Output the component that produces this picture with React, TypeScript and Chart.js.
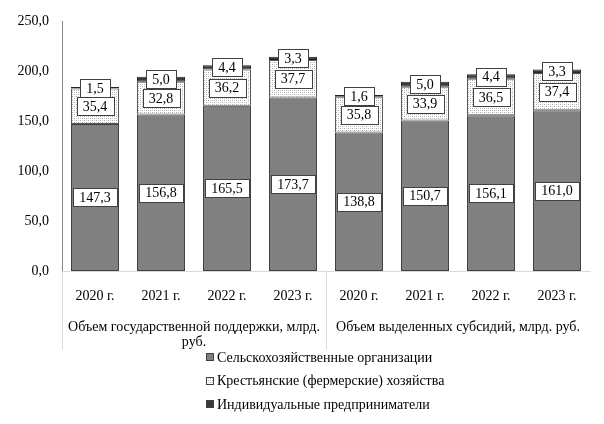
import React, { useEffect, useRef } from 'react';
import { Chart, registerables } from 'chart.js';

Chart.register(...registerables);

const categories = ['2020 г.', '2021 г.', '2022 г.', '2023 г.', '2020 г.', '2021 г.', '2022 г.', '2023 г.'];
const groupLabels = [
  ['Объем государственной поддержки, млрд.', 'руб.'],
  ['Объем выделенных субсидий, млрд. руб.'],
];
const seriesNames = [
  'Сельскохозяйственные организации',
  'Крестьянские (фермерские) хозяйства',
  'Индивидуальные предприниматели',
];
const agriOrgs = [147.3, 156.8, 165.5, 173.7, 138.8, 150.7, 156.1, 161.0];
const farms = [35.4, 32.8, 36.2, 37.7, 35.8, 33.9, 36.5, 37.4];
const entrepreneurs = [1.5, 5.0, 4.4, 3.3, 1.6, 5.0, 4.4, 3.3];
const yMin = 0;
const yMax = 250;
const yStep = 50;

const FONT = '"Liberation Serif", "Times New Roman", serif';

const fmt = (v: number) => v.toFixed(1).replace('.', ',');

function makeDots(): CanvasPattern | string {
  const c = document.createElement('canvas');
  c.width = 4;
  c.height = 4;
  const g = c.getContext('2d');
  if (!g) return '#e6e6e6';
  g.fillStyle = '#ffffff';
  g.fillRect(0, 0, 4, 4);
  g.fillStyle = '#a6a6a6';
  g.fillRect(0, 0, 1, 1);
  g.fillRect(2, 2, 1, 1);
  g.fillStyle = '#d0d0d0';
  g.fillRect(2, 0, 1, 1);
  g.fillRect(0, 2, 1, 1);
  return g.createPattern(c, 'repeat') || '#e6e6e6';
}

const boxLabels = {
  id: 'boxLabels',
  afterDatasetsDraw(chart: any) {
    const ctx = chart.ctx as CanvasRenderingContext2D;
    ctx.save();
    ctx.font = `14px ${FONT}`;
    ctx.textAlign = 'center';
    ctx.textBaseline = 'middle';
    chart.data.datasets.forEach((ds: any, i: number) => {
      const meta = chart.getDatasetMeta(i);
      meta.data.forEach((el: any, j: number) => {
        const v = ds.data[j] as number;
        const txt = fmt(v);
        const { x, y, base } = el.getProps(['x', 'y', 'base'], true);
        const cy = (y + base) / 2;
        const w = Math.round(ctx.measureText(txt).width + 12);
        const h = 18;
        const left = Math.round(x - w / 2) + 0.5;
        const top = Math.round(cy - h / 2) + 0.5;
        ctx.fillStyle = '#ffffff';
        ctx.fillRect(left, top, w, h);
        ctx.strokeStyle = '#404040';
        ctx.lineWidth = 1;
        ctx.strokeRect(left, top, w, h);
        ctx.fillStyle = '#000000';
        ctx.fillText(txt, x, cy + 1);
      });
    });
    ctx.restore();
  },
};

const groupsPlugin = {
  id: 'groups',
  afterDraw(chart: any) {
    const ctx = chart.ctx as CanvasRenderingContext2D;
    const area = chart.chartArea;
    const n = categories.length / groupLabels.length;
    const cw = (area.right - area.left) / categories.length;
    ctx.save();
    ctx.strokeStyle = '#d9d9d9';
    ctx.lineWidth = 1;
    for (let g = 0; g < groupLabels.length; g++) {
      const px = Math.round(area.left + g * n * cw) + 0.5;
      ctx.beginPath();
      ctx.moveTo(px, area.bottom);
      ctx.lineTo(px, area.bottom + 79);
      ctx.stroke();
    }
    ctx.font = `14px ${FONT}`;
    ctx.fillStyle = '#000000';
    ctx.textAlign = 'center';
    ctx.textBaseline = 'middle';
    groupLabels.forEach((lines, g) => {
      const cx = area.left + (g + 0.5) * n * cw;
      lines.forEach((line, k) => {
        ctx.fillText(line, cx, area.bottom + 56 + k * 15);
      });
    });

    // legend
    const lx = 206;
    const ly0 = area.bottom + 86;
    const gap = 23.5;
    ctx.textAlign = 'left';
    chart.data.datasets.forEach((ds: any, i: number) => {
      const cy = ly0 + i * gap;
      const sx = lx + 0.5;
      const sy = Math.round(cy - 4) + 0.5;
      ctx.fillStyle = ds.backgroundColor;
      ctx.fillRect(sx, sy, 7, 7);
      ctx.strokeStyle = '#404040';
      ctx.strokeRect(sx, sy, 7, 7);
      ctx.fillStyle = '#000000';
      ctx.fillText(seriesNames[i], lx + 11, cy + 1);
    });
    ctx.restore();
  },
};

export default function App() {
  const ref = useRef<HTMLCanvasElement | null>(null);

  useEffect(() => {
    if (!ref.current) return;
    const dots = makeDots();
    const chart = new Chart(ref.current, {
      type: 'bar',
      data: {
        labels: categories,
        datasets: [
          {
            label: seriesNames[0],
            data: agriOrgs,
            backgroundColor: '#808080',
            borderColor: '#404040',
            borderWidth: 1,
            borderSkipped: false,
          },
          {
            label: seriesNames[1],
            data: farms,
            backgroundColor: dots as any,
            borderColor: '#595959',
            borderWidth: 1,
            borderSkipped: false,
          },
          {
            label: seriesNames[2],
            data: entrepreneurs,
            backgroundColor: '#3a3a3a',
            borderColor: '#262626',
            borderWidth: 1,
            borderSkipped: false,
          },
        ],
      },
      options: {
        responsive: false,
        animation: false,
        devicePixelRatio: 1,
        layout: { padding: { left: 0, top: 11, right: 14, bottom: 113 } },
        datasets: {
          bar: { categoryPercentage: 1, barPercentage: 0.727 },
        },
        plugins: {
          legend: { display: false },
          tooltip: { enabled: false },
        },
        scales: {
          x: {
            stacked: true,
            grid: { display: false, drawTicks: false },
            border: { display: true, color: '#d9d9d9' },
            ticks: {
              color: '#000',
              font: { family: FONT, size: 14 },
              padding: 17,
              maxRotation: 0,
              autoSkip: false,
            },
            afterFit(scale: any) {
              scale.height = 40;
            },
          },
          y: {
            stacked: true,
            min: yMin,
            max: yMax,
            grid: { display: false, drawTicks: false },
            border: { display: true, color: '#868686' },
            ticks: {
              stepSize: yStep,
              color: '#000',
              font: { family: FONT, size: 14 },
              padding: 13,
              callback: (v: any) => fmt(Number(v)),
            },
            afterFit(scale: any) {
              scale.width = 62;
            },
          },
        },
      },
      plugins: [boxLabels, groupsPlugin],
    });
    return () => chart.destroy();
  }, []);

  return (
    <div style={{ position: 'fixed', left: 0, top: 0, width: 604, height: 424, background: '#fff' }}>
      <canvas ref={ref} width={604} height={424} style={{ display: 'block' }} />
    </div>
  );
}
